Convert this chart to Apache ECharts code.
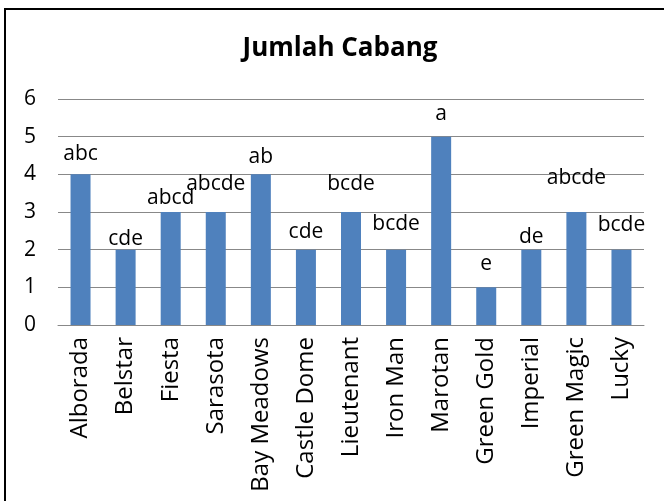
<!DOCTYPE html>
<html>
<head>
<meta charset="utf-8">
<script src="https://cdn.jsdelivr.net/npm/echarts@6/dist/echarts.min.js"></script>
<style>
  html, body { margin: 0; padding: 0; background: #fff; }
  #chart { width: 664px; height: 501px; }
</style>
</head>
<body>
<div id="chart"></div>
<script>
// varietas
var categories = ['Alborada', 'Belstar', 'Fiesta', 'Sarasota', 'Bay Meadows', 'Castle Dome',
  'Lieutenant', 'Iron Man', 'Marotan', 'Green Gold', 'Imperial', 'Green Magic', 'Lucky'];
// jumlah cabang
var values = [4, 2, 3, 3, 4, 2, 3, 2, 5, 1, 2, 3, 2];
// notasi huruf
var letters = ['abc', 'cde', 'abcd', 'abcde', 'ab', 'cde', 'bcde', 'bcde', 'a', 'e', 'de', 'abcde', 'bcde'];
var yTicks = [0, 1, 2, 3, 4, 5, 6];

// jarak label di atas batang (seperti di excel, tidak seragam)
var labelGap = [10, 0, 3, 17, 7, 7, 17, 15, 12, 13, 2, 23, 14];

var font = '"Open Sans", "Liberation Sans", sans-serif';

var chart = echarts.init(document.getElementById('chart'));

var seriesData = values.map(function (v, i) {
  return {
    value: v,
    label: { distance: labelGap[i], formatter: letters[i] }
  };
});

var option = {
  animation: false,
  title: {
    text: 'Jumlah Cabang',
    left: 335,
    top: 31,
    textAlign: 'center',
    textStyle: { fontFamily: font, fontSize: 26, fontWeight: 'bold', color: '#000' }
  },
  graphic: [{
    type: 'rect',
    shape: { x: 5, y: 9, width: 700, height: 600 },
    style: { fill: 'none', stroke: '#000', lineWidth: 2 },
    silent: true
  }],
  grid: { left: 58, right: 20, top: 99, bottom: 176 },
  xAxis: {
    type: 'category',
    data: categories,
    axisLine: { lineStyle: { color: '#888', width: 1 } },
    axisTick: { alignWithLabel: false, length: 6, lineStyle: { color: '#888' } },
    axisLabel: { rotate: 90, fontFamily: font, fontSize: 24, color: '#000', margin: 12, interval: 0 }
  },
  yAxis: {
    type: 'value',
    min: yTicks[0],
    max: yTicks[yTicks.length - 1],
    interval: 1,
    axisLine: { show: false },
    axisTick: { show: false },
    splitLine: { lineStyle: { color: '#888', width: 1 } },
    axisLabel: { fontFamily: font, fontSize: 21, color: '#000', margin: 22 }
  },
  series: [{
    type: 'bar',
    data: seriesData,
    barWidth: 20,
    itemStyle: { color: '#4F81BD' },
    label: {
      show: true,
      position: 'top',
      fontFamily: font,
      fontSize: 21,
      color: '#000'
    }
  }]
};

chart.setOption(option);
</script>
</body>
</html>
